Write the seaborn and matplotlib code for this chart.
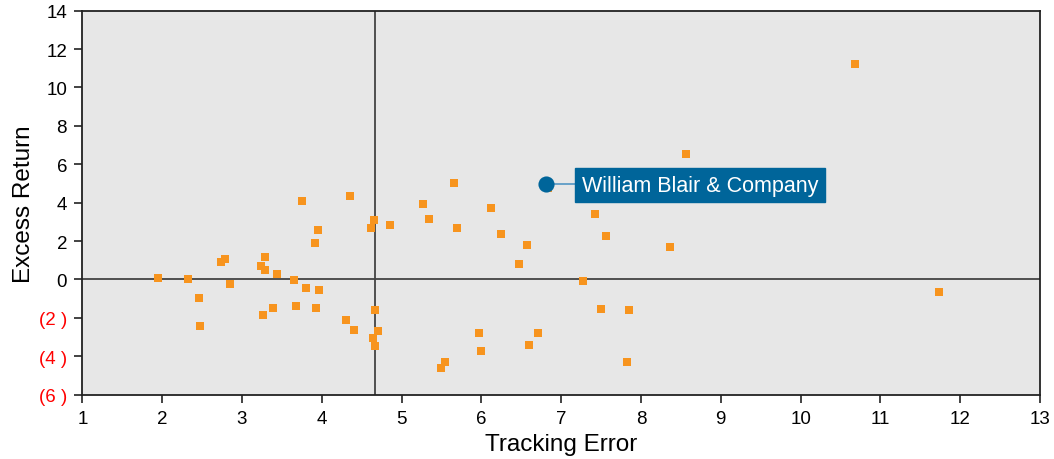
import matplotlib
matplotlib.use("Agg")
import matplotlib.pyplot as plt
import seaborn as sns
import pandas as pd

# --- data ---
tracking_error = [1.95, 2.33, 2.46, 2.48, 2.74, 2.79, 2.85, 3.24, 3.29, 3.29,
                  3.26, 3.39, 3.44, 3.65, 3.68, 3.75, 3.80, 3.91, 3.95, 3.93,
                  3.96, 4.31, 4.36, 4.40, 4.66, 4.62, 4.85, 4.67, 4.71, 4.64,
                  4.67, 5.27, 5.34, 5.66, 5.69, 5.97, 6.00, 5.55, 5.50, 6.12,
                  6.25, 6.47, 6.57, 6.83, 6.71, 6.60, 7.27, 7.43, 7.56, 7.50,
                  7.85, 7.82, 8.37, 8.57, 10.68, 11.73]
excess_return = [0.08, 0.02, -0.96, -2.42, 0.91, 1.07, -0.24, 0.68, 1.17, 0.49,
                 -1.83, -1.49, 0.28, -0.03, -1.36, 4.09, -0.44, 1.90, 2.58, -1.49,
                 -0.55, -2.11, 4.35, -2.63, 3.10, 2.68, 2.84, -1.59, -2.68, -3.05,
                 -3.46, 3.93, 3.15, 5.03, 2.68, -2.79, -3.72, -4.30, -4.61, 3.72,
                 2.37, 0.81, 1.80, 4.78, -2.79, -3.41, -0.10, 3.39, 2.25, -1.56,
                 -1.61, -4.32, 1.67, 6.52, 11.20, -0.64]
highlight_name = "William Blair & Company"
highlight_te = [6.81]
highlight_er = [4.95]
median_te = 4.67
x_ticks = list(range(1, 14))
y_ticks = [-6, -4, -2, 0, 2, 4, 6, 8, 10, 12, 14]
y_tick_labels = ["(6 )", "(4 )", "(2 )", "0", "2", "4", "6", "8", "10", "12", "14"]

sns.set_theme(style="white")
plt.rcParams['font.family'] = ['Liberation Sans', 'DejaVu Sans']

fig = plt.figure(figsize=(10.54, 4.6), dpi=100)
ax = fig.add_axes([0.0781, 0.1398, 0.9086, 0.8348])
ax.set_facecolor("#E7E7E7")

df = pd.DataFrame({"te": tracking_error, "er": excess_return})
sns.scatterplot(data=df, x="te", y="er", marker="s", s=30, color="#F7941E",
                linewidth=0, ax=ax, zorder=3)

ax.axhline(0, color="#444444", lw=1.3, zorder=2)
ax.axvline(median_te, color="#444444", lw=1.3, zorder=2)

hl = pd.DataFrame({"te": highlight_te, "er": highlight_er})
# connector line
ax.plot([highlight_te[0], highlight_te[0] + 0.38], [highlight_er[0], highlight_er[0]],
        color="#5E9CC6", lw=1.3, zorder=4)
sns.scatterplot(data=hl, x="te", y="er", marker="o", s=135, color="#00659A",
                linewidth=0, ax=ax, zorder=5)
ax.text(highlight_te[0] + 0.45, highlight_er[0] - 0.05, highlight_name, color="white",
        fontsize=15.5, va="center", ha="left", zorder=6,
        bbox=dict(boxstyle="square,pad=0.3", fc="#00659A", ec="#00659A"))

ax.set_xlim(1, 13)
ax.set_ylim(-6, 14)
ax.set_xticks(x_ticks)
ax.set_xticklabels([str(t) for t in x_ticks], fontsize=13.5, color="black")
ax.set_yticks(y_ticks)
ax.set_yticklabels(y_tick_labels, fontsize=13.5)
for lbl, v in zip(ax.get_yticklabels(), y_ticks):
    lbl.set_color("#FF0000" if v < 0 else "black")
ax.tick_params(axis="both", direction="out", length=6, width=1.2, color="#222222",
               left=True, bottom=True, pad=5)
for sp in ax.spines.values():
    sp.set_color("#222222")
    sp.set_linewidth(1.3)

ax.set_xlabel("Tracking Error", fontsize=17.5, labelpad=4, color="black")
ax.set_ylabel("Excess Return", fontsize=17.5, labelpad=3, color="black")

fig.savefig("out.png", dpi=100)
